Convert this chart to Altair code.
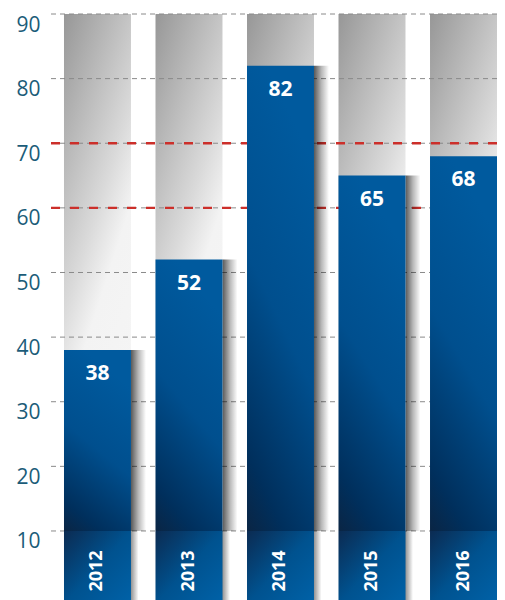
import altair as alt
import pandas as pd

years = ["2012", "2013", "2014", "2015", "2016"]
values = [38, 52, 82, 65, 68]
tick_values = [10, 20, 30, 40, 50, 60, 70, 80, 90]
red_lines = [60, 70]
Y_MAX = 90
Y_MIN = -1.3
SEG = 10
YEAR_POS = 3.8

df = pd.DataFrame({"year": years, "value": values})
df["top"] = Y_MAX
df["base"] = Y_MIN
df["seg"] = SEG
df["label"] = [str(v) for v in values]
df["ypos"] = YEAR_POS

grid_df = pd.DataFrame({"t": tick_values})
red_df = pd.DataFrame({"t": red_lines})

FONT = "Open Sans"

x_enc = alt.X("year:N", sort=years, axis=None,
              scale=alt.Scale(paddingInner=0.268, paddingOuter=0.071, align=1))
y_scale = alt.Scale(domain=[Y_MIN, Y_MAX], nice=False, zero=False)

def grad(stops, x1=0, y1=0, x2=1, y2=1):
    return alt.Gradient(gradient="linear",
                        stops=[alt.GradientStop(color=c, offset=o) for o, c in stops],
                        x1=x1, y1=y1, x2=x2, y2=y2)

base = alt.Chart(df)

bg = base.mark_bar(color=grad([(0, "#979797"), (0.45, "#dadada"), (0.6, "#f3f3f3"), (1, "#f6f6f6")],
                              0, 0, 0.35, 1)).encode(
    x=x_enc,
    y=alt.Y("top:Q", scale=y_scale,
            axis=alt.Axis(values=tick_values, grid=False, domain=False, ticks=False,
                          labelFontSize=21, labelColor="#1b5c79", labelFont=FONT,
                          labelBaseline="top", labelPadding=11, title=None)),
    y2="base:Q",
)

grid = alt.Chart(grid_df).mark_rule(color="#8a8a8a", strokeWidth=1, strokeDash=[5, 4]).encode(
    y=alt.Y("t:Q", scale=y_scale)
)

red = alt.Chart(red_df).mark_rule(color="#cc2f2a", strokeWidth=2.3, strokeDash=[9, 10]).encode(
    y=alt.Y("t:Q", scale=y_scale)
)

shadow = base.mark_bar(width=15, xOffset=41, clip=True,
                       color=grad([(0, "rgba(0,0,0,0.65)"), (0.5, "rgba(0,0,0,0.28)"), (1, "rgba(0,0,0,0)")],
                                  0, 0, 1, 0)).encode(
    x=x_enc, y=alt.Y("value:Q", scale=y_scale), y2="seg:Q"
)

shadow2 = base.mark_bar(width=8, xOffset=37, clip=True,
                        color=grad([(0, "rgba(0,0,0,0.45)"), (1, "rgba(0,0,0,0)")], 0, 0, 1, 0)).encode(
    x=x_enc, y=alt.Y("seg:Q", scale=y_scale), y2="base:Q"
)

bars = base.mark_bar(color=grad([(0, "#005a9e"), (0.45, "#004f8e"), (0.85, "#002f5c"), (1, "#0a2544")],
                                0.3, 0, 0, 1)).encode(
    x=x_enc, y=alt.Y("value:Q", scale=y_scale), y2="seg:Q"
)

segs = base.mark_bar(color=grad([(0, "#0b2b52"), (0.5, "#00528f"), (1, "#0062a8")], 0, 0, 1, 1)).encode(
    x=x_enc, y=alt.Y("seg:Q", scale=y_scale), y2="base:Q"
)

vals = base.mark_text(color="white", font=FONT, fontSize=21, fontWeight="bold",
                      baseline="middle", dy=24).encode(
    x=x_enc, y=alt.Y("value:Q", scale=y_scale), text="label:N"
)

yrs = base.mark_text(color="white", font=FONT, fontSize=18, fontWeight="bold",
                     baseline="middle", align="center", angle=270).encode(
    x=x_enc, y=alt.Y("ypos:Q", scale=y_scale), text="year:N"
)

chart = alt.layer(bg, grid, red, shadow, shadow2, bars, segs, vals, yrs).properties(
    width=446, height=590,
    padding={"left": 43, "top": 6, "right": 0, "bottom": 0},
    autosize=alt.AutoSizeParams(type="none"),
).configure_view(stroke=None)

chart.save("out.html", embed_options={"renderer": "svg", "actions": False})
